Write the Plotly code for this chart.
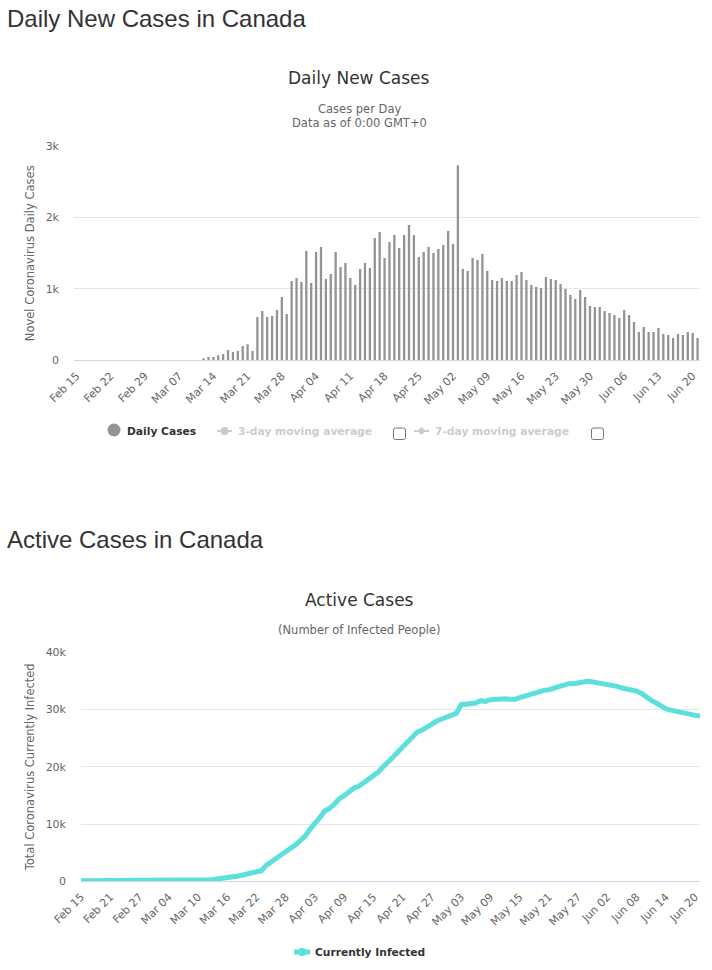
import pandas as pd
import plotly.graph_objects as go

W, H = 712, 970

dates = [d.strftime("%b %d") for d in pd.date_range("2020-02-15", "2020-06-21")]

daily_cases = [0] * 26 + [
    15, 45, 45, 70, 90, 145, 115, 130, 200, 225, 130,
    607, 690, 607, 620, 705, 887, 650,
    1111, 1153, 1097, 1531, 1083, 1517, 1587, 1139, 1209, 1517, 1307, 1363, 1153,
    1055, 1279, 1363, 1293, 1713, 1797, 1433, 1657, 1755, 1573,
    1755, 1895, 1755, 1447, 1517, 1587, 1503, 1559, 1615, 1811,
    1629, 2736, 1279, 1251, 1433, 1405, 1489, 1251, 1125, 1111,
    1153, 1111, 1111, 1195, 1237, 1125, 1055, 1027, 1013, 1167,
    1139, 1125, 1069, 999, 915, 859, 985, 887, 761, 747,
    747, 691, 663, 635, 593, 705, 635, 537, 397, 467,
    397, 397, 453, 369, 355, 313, 369, 355, 397, 383,
    313,
]

active_cases = [
    80, 80, 80, 80, 80, 80, 80, 80, 80, 80, 80, 80, 80, 80, 85, 85, 90, 90, 95, 100,
    110, 130, 150, 170, 190, 220, 260, 310, 380, 460,
    570, 700, 870, 1050, 1280, 1450, 1630, 1860, 2790, 3430, 4000, 4600, 5350, 5760,
    6340, 7200, 7900, 9130, 10060, 11100, 12280, 12740, 13500, 14430, 14950, 15600,
    16300, 16600, 17230, 17930, 18390, 19090, 20020, 20720, 21650, 22580, 23400, 24270,
    25200, 26070, 26420, 27000, 27590, 28000, 28340, 28700, 28930, 29330, 30850, 30900,
    30960, 31140, 31550, 31430, 31720, 31830, 31950, 31890, 31780, 31780, 32070, 32360,
    32710, 33000, 33170, 33350, 33470, 33700, 34050, 34340, 34510, 34510, 34690, 34860,
    34920, 34800, 34630, 34570, 34510, 34340, 34050, 33760, 33580, 33470, 33230, 32820,
    32130, 31600, 31140, 30610, 30150, 29910, 29680, 29510, 29330, 29160, 28980, 28870,
]

ticks_daily = ["Feb 15", "Feb 22", "Feb 29", "Mar 07", "Mar 14", "Mar 21", "Mar 28", "Apr 04", "Apr 11",
               "Apr 18", "Apr 25", "May 02", "May 09", "May 16", "May 23", "May 30", "Jun 06", "Jun 13", "Jun 20"]
ticks_active = ["Feb 15", "Feb 21", "Feb 27", "Mar 04", "Mar 10", "Mar 16", "Mar 22", "Mar 28", "Apr 03",
                "Apr 09", "Apr 15", "Apr 21", "Apr 27", "May 03", "May 09", "May 15", "May 21", "May 27",
                "Jun 02", "Jun 08", "Jun 14", "Jun 20"]
y_daily_vals = [0, 1000, 2000, 3000]
y_daily_text = ["0", "1k", "2k", "3k"]
y_active_vals = [0, 10000, 20000, 30000, 40000]
y_active_text = ["0", "10k", "20k", "30k", "40k"]

FONT = "DejaVu Sans"
px = lambda x: x / W
py = lambda y: 1 - y / H

fig = go.Figure()
fig.add_trace(go.Bar(x=dates, y=daily_cases, marker=dict(color="#939393", line_width=0),
                     name="Daily Cases", xaxis="x", yaxis="y"))
fig.add_trace(go.Scatter(x=dates, y=active_cases, mode="lines", line=dict(color="#5ce0dc", width=5),
                         name="Currently Infected", xaxis="x2", yaxis="y2"))


def xaxis(domain, rng, ticks):
    return dict(domain=domain, range=rng, type="category", categoryorder="array", categoryarray=dates,
                tickmode="array", tickvals=ticks, ticktext=ticks, tickangle=-45, ticks="",
                tickfont=dict(family=FONT, size=11, color="#666666"), ticklabelstandoff=4,
                showgrid=False, showline=True, linecolor="#ccd6eb", linewidth=1, zeroline=False,
                fixedrange=True, automargin=False)


def yaxis(domain, rng, vals, text, title, anchor):
    return dict(domain=domain, range=rng, tickmode="array", tickvals=vals, ticktext=text, ticks="",
                tickfont=dict(family=FONT, size=11, color="#666666"), ticklabelstandoff=14,
                showgrid=True, gridcolor="#e6e6e6", gridwidth=1, zeroline=False, anchor=anchor,
                title=dict(text=title, font=dict(family=FONT, size=11.5, color="#666666"), standoff=8),
                fixedrange=True, automargin=False)


annotations = []


def text(x, y, s, size, color, anchor="center", family=FONT, bold=False):
    annotations.append(dict(xref="paper", yref="paper", x=px(x), y=py(y), text=f"<b>{s}</b>" if bold else s,
                            showarrow=False, xanchor=anchor, yanchor="middle", align=anchor,
                            font=dict(family=family, size=size, color=color)))


text(5, 18, "Daily New Cases in Canada", 24, "#333333", "left", "Liberation Sans")
text(5, 539, "Active Cases in Canada", 24, "#333333", "left", "Liberation Sans")
text(359, 78, "Daily New Cases", 17, "#333333")
text(359, 109, "Cases per Day", 11.5, "#666666")
text(359, 123, "Data as of 0:00 GMT+0", 11.5, "#666666")
text(359, 600, "Active Cases", 17, "#333333")
text(359, 630, "(Number of Infected People)", 11.5, "#666666")
text(125, 431, "Daily Cases", 10.7, "#333333", "left", bold=True)
text(236, 431, "3-day moving average", 10.7, "#cccccc", "left", bold=True)
text(433, 431, "7-day moving average", 10.7, "#cccccc", "left", bold=True)
text(313, 952, "Currently Infected", 10.7, "#333333", "left", bold=True)

shapes = []


def rect(x0, y0, x1, y1, **kw):
    return dict(xref="paper", yref="paper", x0=px(x0), y0=py(y0), x1=px(x1), y1=py(y1), **kw)


def rounded_box(x0, y0, x1, y1, r):
    path = (f"M {px(x0 + r)} {py(y0)} L {px(x1 - r)} {py(y0)} Q {px(x1)} {py(y0)} {px(x1)} {py(y0 + r)} "
            f"L {px(x1)} {py(y1 - r)} Q {px(x1)} {py(y1)} {px(x1 - r)} {py(y1)} "
            f"L {px(x0 + r)} {py(y1)} Q {px(x0)} {py(y1)} {px(x0)} {py(y1 - r)} "
            f"L {px(x0)} {py(y0 + r)} Q {px(x0)} {py(y0)} {px(x0 + r)} {py(y0)} Z")
    return dict(type="path", xref="paper", yref="paper", path=path, fillcolor="white",
                line=dict(color="#767676", width=1))


# legend symbols
shapes.append(rect(107.5, 423.5, 120.5, 436.5, type="circle", fillcolor="#939393", line_width=0))
for x0, x1 in [(217, 232), (414, 429)]:
    shapes.append(rect(x0, 431, x1, 431, type="line", line=dict(color="#cccccc", width=2)))
shapes.append(rect(220.5, 427, 228.5, 435, type="circle", fillcolor="#cccccc", line_width=0))
shapes.append(dict(type="path", xref="paper", yref="paper", fillcolor="#cccccc", line_width=0,
                   path=f"M {px(421.5)} {py(427)} L {px(425.5)} {py(431)} L {px(421.5)} {py(435)} L {px(417.5)} {py(431)} Z"))
shapes.append(rect(294, 952, 310, 952, type="line", line=dict(color="#5ce0dc", width=5)))
shapes.append(rect(298, 948, 306, 956, type="circle", fillcolor="#5ce0dc", line_width=0))
# checkboxes
for x0 in [393.5, 591.5]:
    shapes.append(rounded_box(x0, 428, x0 + 12, 439.5, 2))

fig.update_layout(
    width=W, height=H, autosize=False, margin=dict(l=0, r=0, t=0, b=0),
    paper_bgcolor="white", plot_bgcolor="white", showlegend=False, bargap=0.53,
    xaxis=xaxis([px(74), px(700)], [-0.5, 127.5], ticks_daily),
    yaxis=yaxis([py(360.3), py(146.3)], [0, 3000], y_daily_vals, y_daily_text,
                "Novel Coronavirus Daily Cases", "x"),
    xaxis2=xaxis([px(81), px(700)], [0, 127], ticks_active),
    yaxis2=yaxis([py(881.3), py(652.3)], [0, 40000], y_active_vals, y_active_text,
                 "Total Coronavirus Currently Infected", "x2"),
    annotations=annotations, shapes=shapes,
)
fig.update_layout(xaxis2=dict(anchor="y2"), xaxis=dict(anchor="y"))

fig.write_html("out.html", config={"displayModeBar": False},
               post_script="document.body.style.margin='0';document.body.style.overflow='hidden';")
